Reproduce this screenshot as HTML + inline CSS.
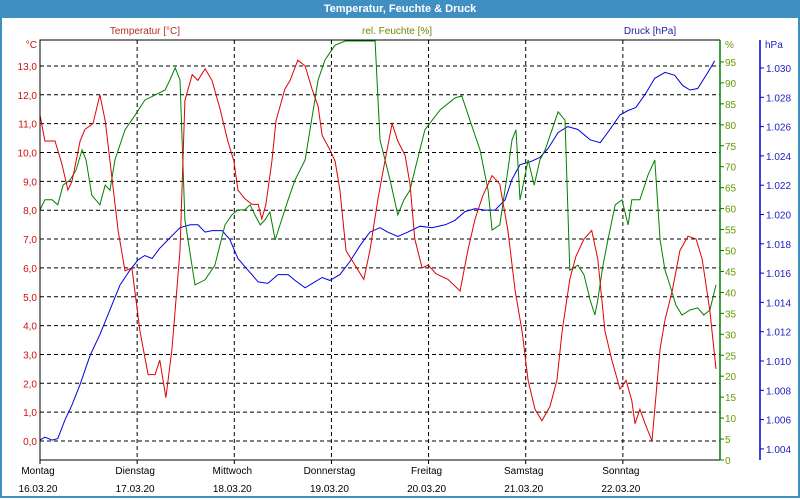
<!DOCTYPE html>
<html><head><meta charset="utf-8"><style>
body{margin:0;background:#fff;font-family:"Liberation Sans",sans-serif;}
#win{position:absolute;left:0;top:0;width:796px;height:496px;border:2px solid #3f8fc2;border-top:none;}
#title{position:absolute;left:0;top:0;width:800px;height:18px;background:#3f8fc2;color:#fff;font:bold 11px "Liberation Sans",sans-serif;text-align:center;line-height:18px;}
svg{position:absolute;left:0;top:0;}
text{font-family:"Liberation Sans",sans-serif;font-size:10px;}
</style></head><body>
<div id="win"></div>
<div id="title">Temperatur, Feuchte &amp; Druck</div>
<svg id="c" width="800" height="500"></svg>
<script>
const dayNames=["Montag","Dienstag","Mittwoch","Donnerstag","Freitag","Samstag","Sonntag"];
const dayDates=["16.03.20","17.03.20","18.03.20","19.03.20","20.03.20","21.03.20","22.03.20"];
const tempTicks=[0,1,2,3,4,5,6,7,8,9,10,11,12,13];
const humTicks=[0,5,10,15,20,25,30,35,40,45,50,55,60,65,70,75,80,85,90,95];
const presTicks=[1004,1006,1008,1010,1012,1014,1016,1018,1020,1022,1024,1026,1028,1030];
const tempH=[0,1.2,3.7,5.4,6.9,7.9,9.9,11.1,13.1,14.8,16.1,17.3,19.3,21,22.7,24.7,26.7,28.4,29.6,31.1,32.6,34.6,35.8,37.6,39,40.8,42.5,44.5,46.4,47.9,48.9,50.6,52.4,53.9,54.8,55.8,57.3,58.3,60.5,61.8,63.7,65.5,67.2,68.7,69.7,71.6,72.9,74.1,75.6,77.8,80,81.5,83.5,85.2,87,88.4,90.2,91.4,92.6,94.4,95.9,97.8,100.8,103.8,105.7,107.5,109.4,111.7,113.6,115.6,117.4,119.1,120.6,122.3,124,126,127.7,129,130.9,132.4,134.4,136.3,137.8,139.6,141.3,143.3,144.8,146.2,147,148.2,149.5,151.2,153.2,154.4,156.2,158.1,160.1,162.1,163.6,165.5,167];
const tempV=[11.3,10.4,10.4,9.6,8.7,9.0,10.4,10.8,11.0,12.0,11.1,9.7,7.3,5.9,6.0,3.8,2.3,2.3,2.8,1.5,3.2,6.6,11.8,12.7,12.5,12.9,12.5,11.5,10.4,9.7,8.7,8.4,8.2,8.2,7.7,8.2,9.7,11.1,12.2,12.5,13.2,13.0,12.2,11.6,10.6,10.1,9.7,8.7,6.6,6.1,5.6,6.6,8.4,9.7,11.0,10.4,9.9,8.9,7.0,6.0,6.1,5.8,5.6,5.2,6.6,7.7,8.5,9.2,8.9,7.3,5.2,3.8,2.1,1.1,0.7,1.2,2.1,3.8,5.6,6.4,7.0,7.3,6.3,3.8,2.8,1.8,2.1,1.4,0.6,1.1,0.6,0.0,3.2,4.2,5.2,6.6,7.1,7.0,6.3,4.5,2.5];
const humH=[0,1.2,3,4.4,5.7,7.4,8.9,10.4,11.4,12.8,14.8,16.1,17.3,18.5,21,23.5,25.9,28.4,30.9,32.1,33.4,34.6,35.8,38.3,40.8,43.2,45.7,47.4,48.9,50.6,51.9,53.1,54.4,55.6,56.8,58.1,59.3,61.3,63,65.5,66.7,68.7,70.4,72.9,75.4,79.1,82.8,84,86.5,88.4,89.9,91.4,92.6,95.1,98.8,102.5,104.2,106.2,108.7,110.7,111.7,113.6,115.6,116.6,117.6,118.6,119.6,120.6,122.1,123.5,124.8,126.5,128,129.7,130.9,132.9,134.4,135.9,137.1,137.8,139.1,140.3,142.1,143.8,145.3,146.2,148.2,150.2,151.9,153.2,154.4,155.6,157.1,158.6,160.6,162.5,164,165.5,167];
const humV=[59.7,62.1,62.1,60.9,65.6,66.8,69.2,74.0,71.6,63.2,60.9,65.6,64.4,71.6,78.8,82.3,85.9,87.1,88.3,90.7,93.6,90.7,57.3,41.8,43.0,46.5,56.1,58.5,59.7,59.7,60.9,58.5,56.1,57.3,59.2,52.5,56.1,62.1,66.8,71.6,78.8,90.7,95.5,99.0,100,100,100,76.4,66.8,58.5,62.1,64.4,69.2,78.8,83.5,86.4,86.9,81.1,74.0,64.4,54.9,56.1,69.2,76.4,78.8,62.1,66.8,71.6,65.6,71.6,74.0,78.8,83.1,81.1,45.3,46.5,44.2,38.2,34.6,38.2,46.5,52.5,60.9,62.1,56.1,62.1,62.1,68.0,71.6,52.5,45.3,41.8,37.0,34.6,35.8,36.3,34.6,35.8,41.8];
const presH=[0,1.2,3,4.4,6.2,7.9,9.9,12.4,14.8,17.3,19.8,22.2,24.2,25.9,27.7,29.6,32.1,34.6,37.1,39,40.8,42.5,45,46.9,48.9,51.4,53.9,56.3,58.8,61.3,63,65.5,67.9,69.7,71.6,74.1,76.6,79.1,81.5,84,85.9,88.4,90.9,93.9,96.8,100.1,102.5,105,107.5,109.9,112.4,114.9,116.6,118.6,121.1,123.5,125.5,128,130.4,132.9,135.9,138.4,140.8,143.3,145.3,147.2,149.5,151.9,154.4,156.8,158.8,160.6,162.5,165,166.7];
const presV=[1004.6,1004.8,1004.6,1004.7,1006.0,1007.0,1008.4,1010.4,1011.8,1013.5,1015.2,1016.2,1016.9,1017.2,1017.0,1017.7,1018.4,1019.1,1019.3,1019.3,1018.8,1018.9,1018.9,1018.3,1017.0,1016.2,1015.4,1015.3,1015.9,1015.9,1015.5,1015.0,1015.4,1015.7,1015.5,1015.9,1016.8,1017.9,1018.8,1019.1,1018.8,1018.5,1018.8,1019.2,1019.1,1019.3,1019.6,1020.2,1020.4,1020.3,1020.3,1021.0,1022.4,1023.4,1023.6,1023.9,1024.5,1025.6,1026.0,1025.8,1025.1,1024.9,1025.8,1026.8,1027.1,1027.3,1028.2,1029.3,1029.7,1029.5,1028.8,1028.5,1028.6,1029.7,1030.5];

const NS="http://www.w3.org/2000/svg";
const svg=document.getElementById('c');
const L=40,R=720,T=40,B=460;
const xS=h=>L+h*(R-L)/168;
const yT=v=>441-v*28.85;
const yH=v=>460-v*4.19;
const yP=v=>68+(1030-v)*14.65;
function mk(tag,attrs,txt){const e=document.createElementNS(NS,tag);for(const k in attrs)e.setAttribute(k,attrs[k]);if(txt!==undefined)e.textContent=txt;svg.appendChild(e);return e;}

// grid
tempTicks.forEach(t=>{if(t===13||true){const y=yT(t);
const g=mk('line',{x1:L,x2:R,y1:y,y2:y,stroke:'#000','stroke-dasharray':'4,3','stroke-width':1});

}
const lb=mk('text',{x:37,y:yT(t)+4,'text-anchor':'end',fill:'#d01010'},t.toFixed(1).replace('.',','));

});
for(let d=1;d<7;d++){const x=xS(d*24);
const g=mk('line',{x1:x,x2:x,y1:T,y2:B,stroke:'#000','stroke-dasharray':'4,3'});

}
for(let d=0;d<7;d++){const x=xS(d*24);
const tk=mk('line',{x1:x,x2:x,y1:B,y2:B+4,stroke:'#000'});


const a=mk('text',{x:x-2,y:474,'text-anchor':'middle',fill:'#000'},dayNames[d]);


const b=mk('text',{x:x-2,y:492,'text-anchor':'middle',fill:'#000'},dayDates[d]);

}

// series
function line(H,V,fy,col,name){const d=H.map((h,i)=>(i?'L':'M')+xS(h).toFixed(1)+','+Math.max(T,fy(V[i])).toFixed(1)).join('');
const p=mk('path',{d:d,fill:'none',stroke:col,'stroke-width':1});

}
line(presH,presV,yP,'#0000e0','pressure-line');
line(humH,humV,yH,'#008000','humidity-line');
line(tempH,tempV,yT,'#e00000','temperature-line');

// frame
const f1=mk('path',{d:`M${L},${B}V${T}H${R}`,fill:'none',stroke:'#000'});


const xa=mk('line',{x1:L,x2:R,y1:B,y2:B,stroke:'#000'});


const ga=mk('line',{x1:R,x2:R,y1:T,y2:B,stroke:'#008000','stroke-width':1.5});


humTicks.forEach(t=>{const y=yH(t);
const tk=mk('line',{x1:R,x2:R+4,y1:y,y2:y,stroke:'#008000'});


const lb=mk('text',{x:725,y:y+4,fill:'#6a9a00'},String(t));

});
const pa=mk('line',{x1:760,x2:760,y1:T,y2:B,stroke:'#0000e0','stroke-width':1.5});


presTicks.forEach(t=>{const y=yP(t);
const tk=mk('line',{x1:760,x2:764,y1:y,y2:y,stroke:'#0000e0'});


const lb=mk('text',{x:766,y:y+4,fill:'#2020c0'},(t/1000).toFixed(3));

});

const u1=mk('text',{x:37,y:48,'text-anchor':'end',fill:'#d01010'},'°C');


const u2=mk('text',{x:725,y:48,fill:'#6a9a00'},'%');


const u3=mk('text',{x:765,y:48,fill:'#2020c0'},'hPa');


const s1=mk('text',{x:145,y:34,'text-anchor':'middle',fill:'#b03020'},'Temperatur [°C]');


const s2=mk('text',{x:397,y:34,'text-anchor':'middle',fill:'#6a8a00'},'rel. Feuchte [%]');


const s3=mk('text',{x:650,y:34,'text-anchor':'middle',fill:'#2020a0'},'Druck [hPa]');


</script>
</body></html>
